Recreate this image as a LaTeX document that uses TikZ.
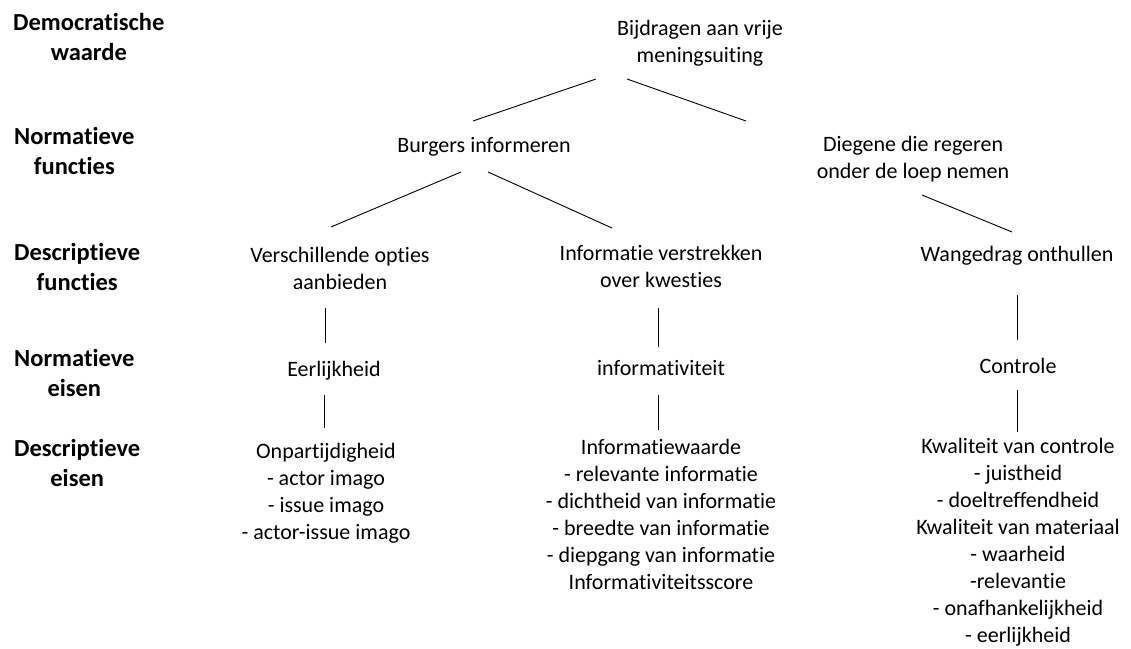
\documentclass[tikz,border=0pt]{standalone}
\usepackage{fontspec}
\setmainfont{Carlito}[Ligatures=NoCommon]
\begin{document}
\begin{tikzpicture}[x=1pt,y=-1pt,
  txt/.style={font=\fontsize{22}{27}\selectfont, align=center, inner sep=0pt, anchor=north, execute at begin node={\strut}},
  lbl/.style={font=\fontsize{24.5}{29.5}\selectfont\bfseries, align=center, inner sep=0pt, anchor=north west, execute at begin node={\strut}},
  conn/.style={line width=0.9pt}]
\useasboundingbox (0,0) rectangle (1131,648);
% left labels
\node[lbl] (l1) at (13,13.2) {Democratische\\waarde};
\node[lbl] (l2) at (14,127.2) {Normatieve\\functies};
\node[lbl] (l3) at (14,243.4) {Descriptieve\\functies};
\node[lbl] (l4) at (14,349.4) {Normatieve\\eisen};
\node[lbl] (l5) at (14,439.4) {Descriptieve\\eisen};
% tree nodes
\node[txt] (top) at (700,20.3) {Bijdragen aan vrije\\meningsuiting};
\node[txt] (burg) at (484,133.1) {Burgers informeren};
\node[txt] (dieg) at (913,135.6) {Diegene die regeren\\onder de loep nemen};
\node[txt] (vers) at (340,246.6) {Verschillende opties\\aanbieden};
\node[txt] (info) at (661,245.1) {Informatie verstrekken\\over kwesties};
\node[txt] (wang) at (1017,242.6) {Wangedrag onthullen};
\node[txt] (eerl) at (334,357.1) {Eerlijkheid};
\node[txt] (infv) at (661,356.1) {informativiteit};
\node[txt] (cont) at (1018,354.6) {Controle};
\node[txt] (onp) at (326,443.1) {Onpartijdigheid\\- actor imago\\- issue imago\\- actor-issue imago};
\node[txt] (infw) at (661,439.1) {Informatiewaarde\\- relevante informatie\\- dichtheid van informatie\\- breedte van informatie\\- diepgang van informatie\\Informativiteitsscore};
\node[txt] (kwal) at (1018,438.1) {Kwaliteit van controle\\- juistheid\\- doeltreffendheid\\Kwaliteit van materiaal\\- waarheid\\-relevantie\\- onafhankelijkheid\\- eerlijkheid};
% connector end points
\coordinate (topL) at (596,79);
\coordinate (burgT) at (473,121);
\coordinate (topR) at (627,79);
\coordinate (diegT) at (746,121);
\coordinate (burgL) at (461,172);
\coordinate (versT) at (331,227);
\coordinate (burgR) at (488,172);
\coordinate (infoT) at (612,228);
\coordinate (diegB) at (922,195);
\coordinate (wangT) at (1012,232);
\coordinate (versB) at (325,308);
\coordinate (eerlT) at (325,343);
\coordinate (infoB) at (658,308);
\coordinate (infvT) at (658,347);
\coordinate (wangB) at (1017,295);
\coordinate (contT) at (1017,340);
\coordinate (eerlB) at (324,395);
\coordinate (onpT) at (324,428);
\coordinate (infvB) at (658,395);
\coordinate (infwT) at (658,430);
\coordinate (contB) at (1017,390);
\coordinate (kwalT) at (1017,432);
% connectors
\draw[conn] (topL) -- (burgT);
\draw[conn] (topR) -- (diegT);
\draw[conn] (burgL) -- (versT);
\draw[conn] (burgR) -- (infoT);
\draw[conn] (diegB) -- (wangT);
\draw[conn] (versB) -- (eerlT);
\draw[conn] (infoB) -- (infvT);
\draw[conn] (wangB) -- (contT);
\draw[conn] (eerlB) -- (onpT);
\draw[conn] (infvB) -- (infwT);
\draw[conn] (contB) -- (kwalT);
\end{tikzpicture}
\end{document}
